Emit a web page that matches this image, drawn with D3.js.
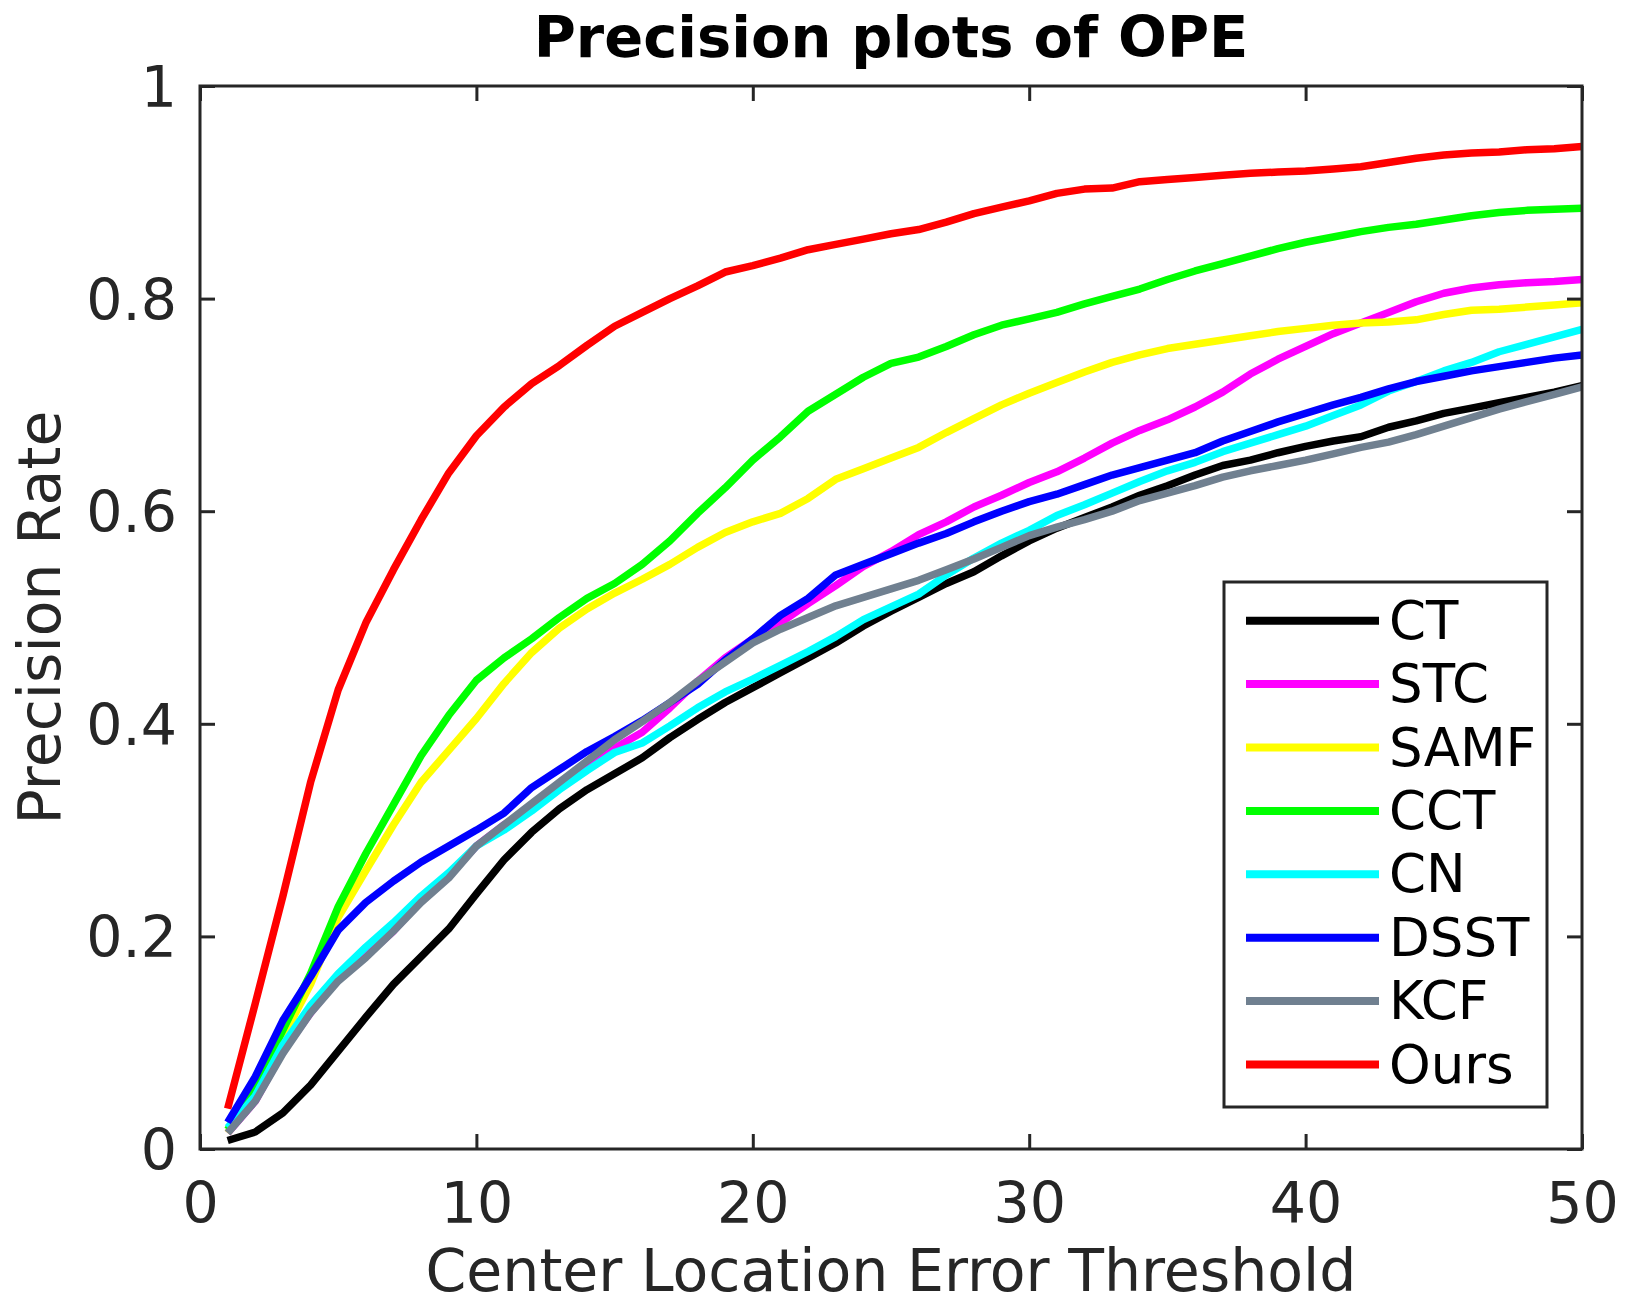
<!DOCTYPE html>
<html>
<head>
<meta charset="utf-8">
<script src="https://cdn.jsdelivr.net/npm/d3@7"></script>
<style>
html, body { margin: 0; padding: 0; background: #ffffff; }
svg { display: block; }
text { font-family: "DejaVu Sans", sans-serif; }
</style>
</head>
<body>
<svg id="chart" width="1635" height="1306"></svg>
<script>
// ---------- data ----------
const thresholds = d3.range(1, 51); // 1..50

const seriesNames = ["CT", "STC", "SAMF", "CCT", "CN", "DSST", "KCF", "Ours"];
const seriesColors = ["#000000", "#ff00ff", "#ffff00", "#00ff00", "#00ffff", "#0000ff", "#708090", "#ff0000"];

const CT = [0.008,0.016,0.034,0.060,0.092,0.124,0.155,0.181,0.207,0.240,
            0.272,0.298,0.320,0.338,0.353,0.368,0.387,0.404,0.420,0.434,
            0.448,0.462,0.476,0.492,0.506,0.519,0.532,0.543,0.558,0.572,
            0.584,0.594,0.604,0.615,0.624,0.634,0.643,0.648,0.655,0.661,
            0.666,0.670,0.679,0.685,0.692,0.697,0.702,0.707,0.712,0.718];
const STC = [0.015,0.045,0.092,0.128,0.160,0.182,0.205,0.234,0.257,0.285,
             0.305,0.322,0.342,0.360,0.377,0.392,0.415,0.440,0.462,0.480,
             0.495,0.513,0.530,0.548,0.562,0.578,0.590,0.604,0.615,0.627,
             0.637,0.650,0.664,0.676,0.686,0.698,0.712,0.729,0.743,0.755,
             0.767,0.777,0.787,0.797,0.805,0.810,0.813,0.815,0.816,0.818];
const SAMF = [0.015,0.050,0.105,0.155,0.218,0.262,0.305,0.345,0.375,0.405,
              0.438,0.467,0.490,0.508,0.523,0.536,0.550,0.566,0.580,0.590,
              0.598,0.612,0.630,0.640,0.650,0.660,0.674,0.687,0.700,0.711,
              0.721,0.731,0.740,0.747,0.753,0.757,0.761,0.765,0.769,0.772,
              0.775,0.777,0.778,0.780,0.785,0.789,0.790,0.792,0.794,0.796];
const CCT = [0.018,0.058,0.112,0.165,0.228,0.278,0.324,0.370,0.408,0.441,
             0.462,0.480,0.500,0.518,0.532,0.550,0.572,0.598,0.622,0.648,
             0.670,0.694,0.710,0.726,0.739,0.745,0.755,0.766,0.775,0.781,
             0.787,0.795,0.802,0.809,0.818,0.826,0.833,0.840,0.847,0.853,
             0.858,0.863,0.867,0.870,0.874,0.878,0.881,0.883,0.884,0.885];
const CN = [0.020,0.050,0.098,0.135,0.165,0.190,0.213,0.238,0.260,0.285,
            0.300,0.318,0.338,0.356,0.373,0.382,0.398,0.415,0.430,0.442,
            0.455,0.468,0.482,0.498,0.510,0.522,0.540,0.556,0.570,0.582,
            0.596,0.606,0.617,0.628,0.638,0.646,0.656,0.664,0.672,0.680,
            0.690,0.700,0.713,0.722,0.732,0.740,0.750,0.757,0.764,0.771];
const DSST = [0.025,0.068,0.121,0.162,0.206,0.232,0.252,0.270,0.285,0.300,
              0.316,0.340,0.357,0.374,0.388,0.403,0.420,0.437,0.460,0.480,
              0.502,0.518,0.540,0.550,0.560,0.570,0.579,0.590,0.600,0.609,
              0.616,0.625,0.634,0.641,0.648,0.655,0.666,0.675,0.684,0.692,
              0.700,0.707,0.715,0.722,0.727,0.732,0.736,0.740,0.744,0.747];
const KCF = [0.015,0.045,0.090,0.128,0.158,0.180,0.205,0.232,0.255,0.285,
             0.305,0.325,0.345,0.365,0.385,0.402,0.420,0.440,0.458,0.476,
             0.489,0.500,0.511,0.519,0.527,0.535,0.545,0.555,0.566,0.577,
             0.585,0.592,0.600,0.610,0.617,0.624,0.632,0.638,0.643,0.648,
             0.654,0.660,0.665,0.672,0.680,0.688,0.696,0.703,0.710,0.717];
const Ours = [0.038,0.137,0.238,0.345,0.432,0.495,0.545,0.592,0.636,0.671,
              0.698,0.720,0.737,0.756,0.774,0.787,0.800,0.812,0.825,0.831,
              0.838,0.846,0.851,0.856,0.861,0.865,0.872,0.880,0.886,0.892,
              0.899,0.903,0.904,0.910,0.912,0.914,0.916,0.918,0.919,0.920,
              0.922,0.924,0.928,0.932,0.935,0.937,0.938,0.940,0.941,0.943];

const seriesValues = [CT, STC, SAMF, CCT, CN, DSST, KCF, Ours];

const xTickValues = [0, 10, 20, 30, 40, 50];
const xTickLabels = ["0", "10", "20", "30", "40", "50"];
const yTickValues = [0, 0.2, 0.4, 0.6, 0.8, 1];
const yTickLabels = ["0", "0.2", "0.4", "0.6", "0.8", "1"];

const titleText = "Precision plots of OPE";
const xLabelText = "Center Location Error Threshold";
const yLabelText = "Precision Rate";

// ---------- layout ----------
const plot = { left: 200, top: 86, right: 1582, bottom: 1149 };
const axisColor = "#262626";

const svg = d3.select("#chart");
const x = d3.scaleLinear().domain([0, 50]).range([plot.left, plot.right]);
const y = d3.scaleLinear().domain([0, 1]).range([plot.bottom, plot.top]);

// ---------- curves ----------
const line = d3.line()
  .x((d, i) => x(thresholds[i]))
  .y(d => y(d));

const curves = svg.append("g").attr("class", "curves");
seriesValues.forEach((vals, k) => {
  curves.append("path")
    .datum(vals)
    .attr("d", line)
    .attr("fill", "none")
    .attr("stroke", seriesColors[k])
    .attr("stroke-width", 7.5)
    .attr("stroke-linejoin", "round")
    .attr("stroke-linecap", "butt");
});

// ---------- axes ----------
const tickFont = 57;
function styleAxis(g) {
  g.select(".domain").remove();
  g.selectAll(".tick line").attr("stroke", axisColor).attr("stroke-width", 3);
  g.selectAll(".tick text")
    .attr("fill", axisColor)
    .style("font-family", "'DejaVu Sans', sans-serif")
    .style("font-size", tickFont + "px");
}

const xAxisB = svg.append("g")
  .attr("transform", `translate(0,${plot.bottom})`)
  .call(d3.axisBottom(x).tickValues(xTickValues)
    .tickFormat((d, i) => xTickLabels[i]).tickSizeInner(-15).tickSizeOuter(0));
styleAxis(xAxisB);
xAxisB.selectAll(".tick text").attr("y", 74).attr("dy", null);

const xAxisT = svg.append("g")
  .attr("transform", `translate(0,${plot.top})`)
  .call(d3.axisTop(x).tickValues(xTickValues).tickFormat("").tickSizeInner(-15).tickSizeOuter(0));
styleAxis(xAxisT);

const yAxisL = svg.append("g")
  .attr("transform", `translate(${plot.left},0)`)
  .call(d3.axisLeft(y).tickValues(yTickValues)
    .tickFormat((d, i) => yTickLabels[i]).tickSizeInner(-15).tickSizeOuter(0).tickPadding(23));
styleAxis(yAxisL);
yAxisL.selectAll(".tick text").attr("x", -23).attr("dy", "0.36em");

const yAxisR = svg.append("g")
  .attr("transform", `translate(${plot.right},0)`)
  .call(d3.axisRight(y).tickValues(yTickValues).tickFormat("").tickSizeInner(-15).tickSizeOuter(0));
styleAxis(yAxisR);

// frame
svg.append("rect")
  .attr("x", plot.left).attr("y", plot.top)
  .attr("width", plot.right - plot.left).attr("height", plot.bottom - plot.top)
  .attr("fill", "none").attr("stroke", axisColor).attr("stroke-width", 3);

// ---------- labels ----------
const cx = (plot.left + plot.right) / 2;
svg.append("text")
  .attr("x", cx).attr("y", 57)
  .attr("text-anchor", "middle")
  .attr("font-weight", "bold")
  .attr("font-size", 57.5)
  .attr("fill", "#000000")
  .text(titleText);

svg.append("text")
  .attr("x", cx).attr("y", 1291)
  .attr("text-anchor", "middle")
  .attr("font-size", 58.5)
  .attr("fill", axisColor)
  .text(xLabelText);

svg.append("text")
  .attr("transform", `translate(60,${(plot.top + plot.bottom) / 2}) rotate(-90)`)
  .attr("text-anchor", "middle")
  .attr("font-size", 58.5)
  .attr("fill", axisColor)
  .text(yLabelText);

// ---------- legend ----------
const legend = { left: 1224, top: 582, right: 1547, bottom: 1107, firstRow: 620.7, rowStep: 63.4 };
const lg = svg.append("g").attr("class", "legend");
lg.append("rect")
  .attr("x", legend.left).attr("y", legend.top)
  .attr("width", legend.right - legend.left).attr("height", legend.bottom - legend.top)
  .attr("fill", "#ffffff").attr("stroke", axisColor).attr("stroke-width", 3);

seriesNames.forEach((name, k) => {
  const ry = legend.firstRow + k * legend.rowStep;
  lg.append("line")
    .attr("x1", 1246).attr("x2", 1379)
    .attr("y1", ry).attr("y2", ry)
    .attr("stroke", seriesColors[k]).attr("stroke-width", 8);
  lg.append("text")
    .attr("x", 1389).attr("y", ry + 18)
    .attr("font-size", 53)
    .attr("fill", "#000000")
    .text(name);
});
</script>
</body>
</html>
